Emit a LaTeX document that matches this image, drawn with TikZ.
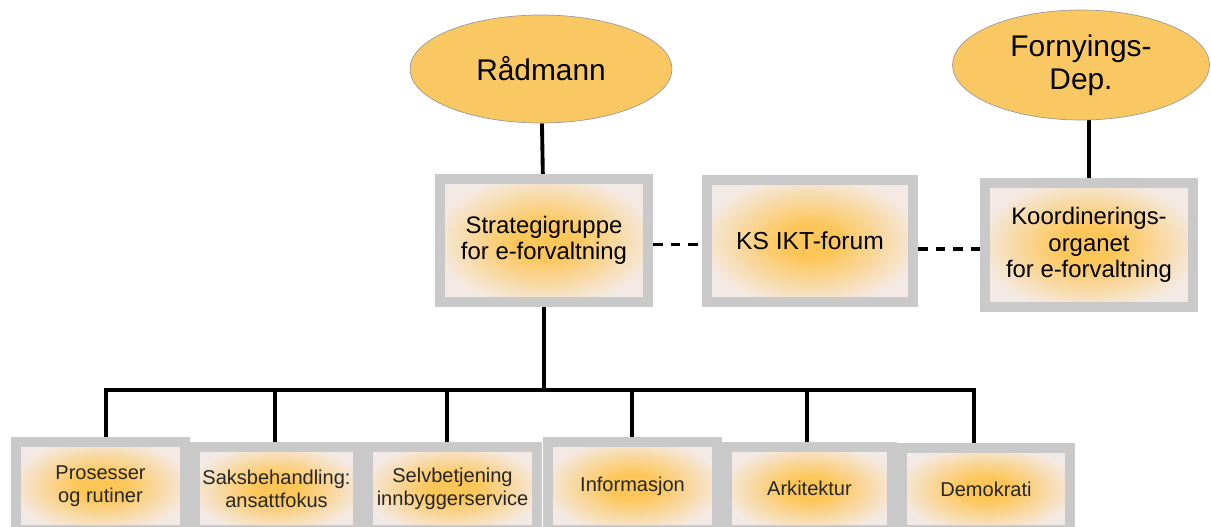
\documentclass[tikz,border=0pt]{standalone}
\usepackage{fontspec}
\setmainfont{Liberation Sans}
\usetikzlibrary{shapes.geometric,backgrounds}

\definecolor{ovalfill}{HTML}{FAC862}
\definecolor{ovaledge}{HTML}{9A9A9A}
\definecolor{framegray}{HTML}{C9C9C9}
\definecolor{boxbg}{HTML}{F4EAE5}
\definecolor{glowc}{HTML}{FDC659}
\pgfdeclareradialshading{glow}{\pgfpoint{0bp}{0bp}}{color(0bp)=(glowc); color(7bp)=(glowc); color(27bp)=(boxbg); color(50bp)=(boxbg)}

\tikzset{
  oval/.style={ellipse, draw=ovaledge, fill=ovalfill, inner sep=0pt, align=center,
    font=\fontsize{17}{19}\selectfont},
  framebox/.style={rectangle, draw=framegray, line width=0.2cm, shading=glow,
    inner sep=2pt, align=center},
  topbox/.style={framebox, font=\fontsize{13.6}{15}\selectfont},
  unitbox/.style={framebox, text=black!85, font=\fontsize{11.4}{13}\selectfont},
  link/.style={line width=2.2pt},
  peer/.style={line width=2.2pt, dash pattern=on 5.5pt off 4.5pt},
}

\begin{document}
\begin{tikzpicture}[x=0.02cm, y=-0.02cm]
    \useasboundingbox (0,0) rectangle (1211,527);
    \clip (0,0) rectangle (1211,527);

    % Top level
    \node[oval, minimum width=5.24cm, minimum height=2.16cm] (radmann) at (541,69) {Rådmann};
    \node[oval, minimum width=5.14cm, minimum height=2.2cm] (fornyings) at (1081,65) {Fornyings-\\Dep.};

    % Middle row
    \node[topbox, minimum width=4.16cm, minimum height=2.46cm] (strat) at (544,240.5) {Strategigruppe\\for e-forvaltning};
    \node[topbox, minimum width=4.12cm, minimum height=2.44cm, font=\fontsize{14}{16}\selectfont] (ks) at (810,241) {KS IKT-forum};
    \node[topbox, minimum width=4.16cm, minimum height=2.48cm] (koord) at (1089,245) {Koordinerings-\\organet\\for e-forvaltning};

    % Working groups
    \node[unitbox, minimum width=3.38cm, minimum height=1.76cm] (pros) at (100.5,486) {Prosesser\\og rutiner};
    \node[unitbox, minimum width=3.26cm, minimum height=1.66cm] (saks) at (276.5,488.5) {Saksbehandling:\\ansattfokus};
    \node[unitbox, minimum width=3.38cm, minimum height=1.66cm] (selv) at (452.5,488.5) {Selvbetjening\\innbyggerservice};
    \node[unitbox, minimum width=3.38cm, minimum height=1.76cm] (info) at (632.5,486) {Informasjon};
    \node[unitbox, minimum width=3.30cm, minimum height=1.66cm] (ark) at (809.5,488.5) {Arkitektur};
    \node[unitbox, minimum width=3.36cm, minimum height=1.64cm] (demo) at (986,489) {Demokrati};

    \coordinate (bus) at (544,390);

    % Connectors
    \begin{scope}[on background layer]
        \draw[link] (radmann) -- (strat);
        \draw[link] (fornyings.south -| koord.north) -- (koord.north);
        \draw[peer] ([yshift=-0.08cm]strat.east) -- ([yshift=-0.08cm]strat.east -| ks.west);
        \draw[peer] ([yshift=-0.16cm]ks.east) -- ([yshift=-0.16cm]ks.east -| koord.west);
        \draw[link] (strat.south) -- (bus);
        \foreach \b/\dx in {pros/5.5, saks/-1.5, selv/-5.5, info/-0.5, ark/-2.5, demo/-12}
            \draw[link] ([xshift=\dx*0.02cm]\b.north) |- (bus);
    \end{scope}
\end{tikzpicture}
\end{document}
